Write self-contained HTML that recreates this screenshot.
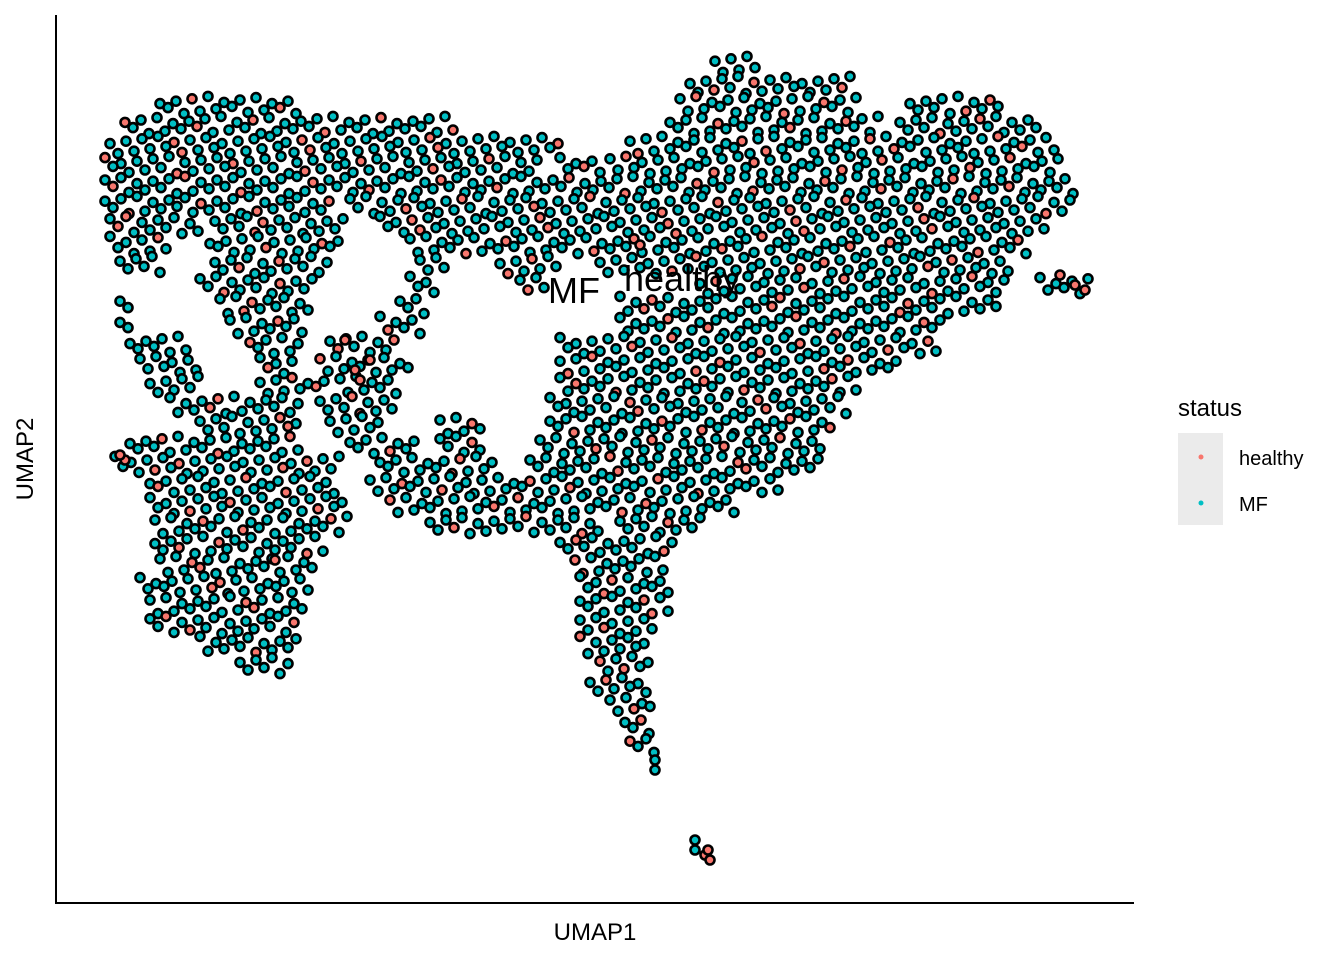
<!DOCTYPE html>
<html><head><meta charset="utf-8"><style>
body{margin:0;background:#fff;}
svg{display:block;font-family:"Liberation Sans",Arial,sans-serif;}
</style></head><body>
<svg id="chart" width="1344" height="960">
<g id="points"></g>
<line x1="56" y1="15" x2="56" y2="903" stroke="#000" stroke-width="2"/>
<line x1="55" y1="903" x2="1134" y2="903" stroke="#000" stroke-width="2"/>
<text x="595" y="940" font-size="24" text-anchor="middle">UMAP1</text>
<text transform="translate(33,459) rotate(-90)" font-size="24" text-anchor="middle">UMAP2</text>
<text x="548" y="303" font-size="36">MF</text>
<text x="624" y="291" font-size="36">healthy</text>
<g>
<text x="1178" y="416" font-size="24">status</text>
<rect x="1178" y="433" width="45" height="92" fill="#ebebeb"/>
<circle cx="1201" cy="457" r="2.5" fill="#F8766D"/>
<circle cx="1201" cy="503" r="2.5" fill="#00BFC4"/>
<text x="1239" y="465" font-size="20">healthy</text>
<text x="1239" y="511" font-size="20">MF</text>
</g>
</svg>
<script>
// spans of cell density: [UMAP2, UMAP1 start, UMAP1 end, ...]
const spans=[
[84.3,65.9,70.4],[82.3,63.4,79.4],[80.3,10.4,24.4,62.4,80.4,85.4,94.4],
[78.3,6.9,40.4,61.4,82.4,84.4,98.4],[76.3,5.4,50.4,57.4,100.4],
[74.3,4.9,48.4,50.4,54.4,55.4,100.9],[72.3,4.9,101.9],[70.3,4.9,27.4,29.4,101.4],
[68.3,5.4,14.4,15.9,29.4,32.4,99.4],[66.3,5.4,11.4,15.4,28.4,35.4,97.4],
[64.3,6.4,10.4,15.9,27.4,36.4,39.4,44.4,50.4,54.4,95.4],
[62.3,14.4,26.4,35.4,38.4,46.4,48.9,64.4,95.4,98.4,103.4],
[60.3,6.4,7.4,16.4,25.4,34.4,37.4,56.4,94.4],[58.3,6.4,7.4,17.4,25.4,32.4,36.4,56.4,88.4],
[56.3,7.4,13.4,19.4,24.4,27.4,34.4,50.4,88.4],[54.3,8.4,14.4,20.4,24.4,26.4,35.4,50.4,84.4],
[52.3,9.4,14.4,20.4,27.4,28.4,34.4,50.4,80.4],[50.3,11.4,24.4,26.4,34.4,49.4,79.4],
[48.3,14.4,24.4,27.4,32.4,38.4,42.4,49.4,77.4],[46.3,7.4,24.4,29.4,36.4,38.4,42.4,48.4,76.4],
[44.3,5.9,28.4,32.4,44.4,47.4,76.4],[42.3,9.4,28.4,31.4,72.4],[40.3,9.4,29.4,33.4,68.4],
[38.3,9.9,29.4,37.4,54.4,56.4,64.4],[36.3,9.9,27.4,50.4,62.4],[34.3,10.4,26.4,51.9,61.4],
[32.3,8.4,25.4,52.4,61.4],[30.3,9.4,25.4,52.4,61.4],[28.3,9.4,24.4,52.4,60.4],
[26.3,14.4,24.4,52.4,59.4],[24.3,18.4,23.4,54.4,59.4],[22.3,53.4,59.4],[20.3,55.4,59.4],
[18.3,56.9,59.9],[16.3,57.4,59.9],[14.3,59.9,59.9],[6.3,63.9,64.4]
];
const healthyU=[29.9,28.9,31.4,30.4,6.9,6.4,101.9,102.9,100.4,64.9,65.4,21.9,58.4,65.2];
const healthyV=[53.3,56.3,54.3,52.3,44.3,44.8,61.8,61.3,62.8,4.8,4.3,34.3,65.8,5.3];
const xs=u=>56+u*10, ys=v=>903-v*10;
const g=document.getElementById('points');
const NS='http://www.w3.org/2000/svg';
let idx=0;
function dot(u,v,col,name){
  const c=document.createElementNS(NS,'circle');
  c.setAttribute('cx',xs(u).toFixed(1));c.setAttribute('cy',ys(v).toFixed(1));
  c.setAttribute('r','4.5');c.setAttribute('fill',col);
  c.setAttribute('stroke','#000');c.setAttribute('stroke-width','2.6');
  
  
  g.appendChild(c);
}
spans.forEach((s,ri)=>{
  for(let sub=0;sub<2;sub++){
    const v=s[0]-sub*1.0;
    for(let k=1;k<s.length;k+=2){
      const a=s[k],b=s[k+1];
      let u=a+(sub?0.8:0);
      if(b-a<0.9){dot(a,v,'#00BFC4','point-mf');continue;}
      for(;u<=b;u+=1.6){
        idx++;
        const red=(idx*7+ri*3)%8===0;
        const jv=((idx*37)%7-3)*0.12;
        dot(u,v+jv,red?'#F8766D':'#00BFC4',red?'point-healthy':'point-mf');
      }
    }
  }
});
healthyU.forEach((u,i)=>dot(u,healthyV[i],'#F8766D','point-healthy'));
</script>
</body></html>
